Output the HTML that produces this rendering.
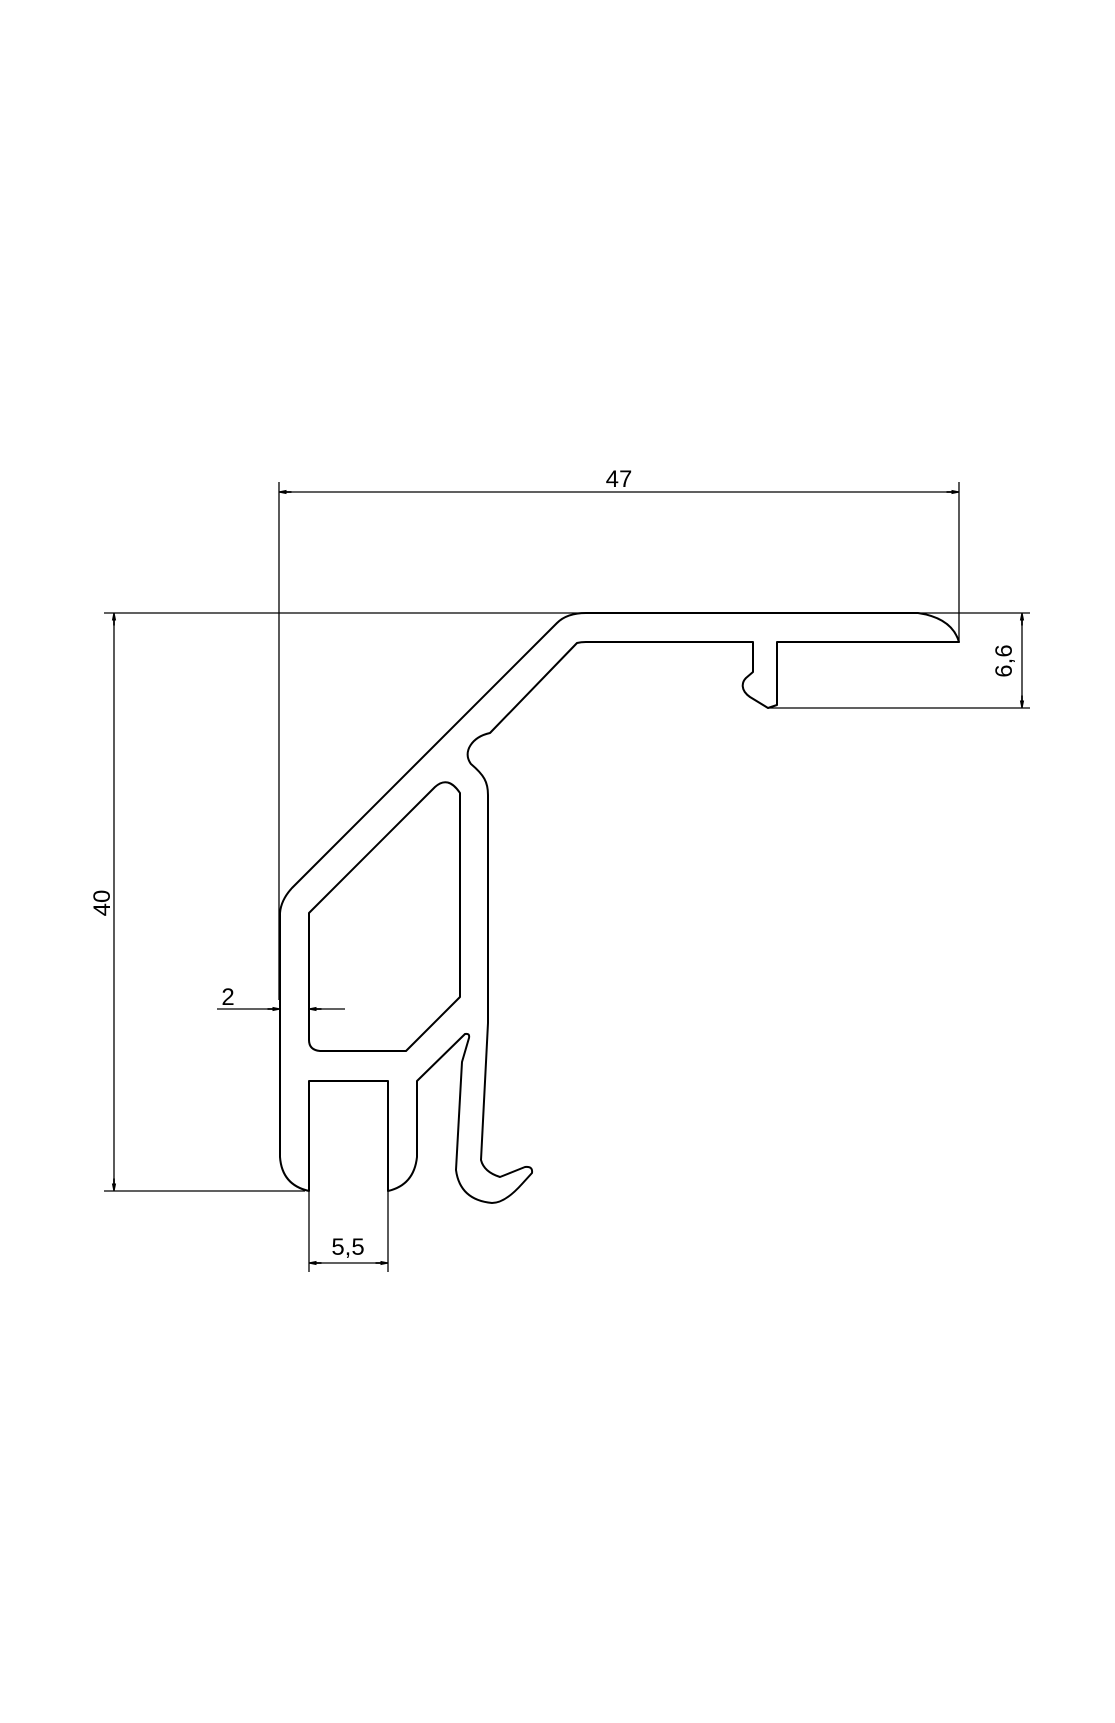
<!DOCTYPE html>
<html><head><meta charset="utf-8"><style>html,body{margin:0;padding:0;background:#fff}svg{display:block}</style></head>
<body>
<svg width="1115" height="1723" viewBox="0 0 1115 1723" xmlns="http://www.w3.org/2000/svg">
<rect width="1115" height="1723" fill="#fff"/>
<defs>
<marker id="a" viewBox="0 0 10 4" refX="10" refY="2" markerWidth="17" markerHeight="5" markerUnits="userSpaceOnUse" orient="auto-start-reverse">
<path d="M0,1.3 L4,1.3 L4,0.3 L10,1.5 L10,2.5 L4,3.7 L4,2.7 L0,2.7Z" fill="#000"/>
</marker>
</defs>
<g fill="none" stroke="#000" stroke-width="1.3">
<line x1="104" y1="613" x2="586" y2="613"/>
<line x1="918" y1="613" x2="1030" y2="613"/>
<line x1="768" y1="708" x2="1030" y2="708"/>
<line x1="104" y1="1191" x2="305" y2="1191"/>
<line x1="279" y1="482" x2="279" y2="1000"/>
<line x1="959" y1="482" x2="959" y2="642"/>
<line x1="309" y1="1191" x2="309" y2="1272"/>
<line x1="388" y1="1191" x2="388" y2="1272"/>
<line x1="279" y1="492" x2="959" y2="492" marker-start="url(#a)" marker-end="url(#a)"/>
<line x1="114" y1="613" x2="114" y2="1191" marker-start="url(#a)" marker-end="url(#a)"/>
<line x1="1022" y1="613" x2="1022" y2="708" marker-start="url(#a)" marker-end="url(#a)"/>
<line x1="309" y1="1263" x2="388" y2="1263" marker-start="url(#a)" marker-end="url(#a)"/>
<line x1="217" y1="1009" x2="280" y2="1009" marker-end="url(#a)"/>
<line x1="345" y1="1009" x2="309" y2="1009" marker-end="url(#a)"/>
</g>
<g fill="none" stroke="#000" stroke-width="2" stroke-linejoin="round">
<path d="M280,1157 L280,913 Q281,900 292,888 L557,623 Q567,613 586,613 L918,613 Q952,618 959,642 L777,642 L777,705 L768,708 L750,697 C740,690 742,682 746,678 L753,672 L753,642 L586,642 Q581,642 577,643 L490,733 C472,737 462,752 471,764 C484,775 488,782 488,795 L488,1023 L481,1160 Q484,1172 500,1177 L525,1167 Q533,1166 532,1173 L522,1184 Q505,1203 492,1203 Q460,1200 456,1170 L462,1062 L469,1038 Q470,1033 465,1034 L417,1081 L417,1157 Q414,1185 388,1191 L388,1081 L309,1081 L309,1191 Q282,1185 280,1157 Z"/>
<path d="M309,913 L435,787 Q448,775 460,793 L460,997 L406,1051 L320,1051 Q309,1050 309,1040 Z"/>
</g>
<g font-family="Liberation Sans, Arial, sans-serif" font-size="24" fill="#000">
<text x="619" y="487" text-anchor="middle">47</text>
<text x="348" y="1255" text-anchor="middle">5,5</text>
<text x="228" y="1005" text-anchor="middle">2</text>
<text transform="translate(110,903) rotate(-90)" text-anchor="middle">40</text>
<text transform="translate(1012,661) rotate(-90)" text-anchor="middle">6,6</text>
</g>
</svg>
</body></html>
